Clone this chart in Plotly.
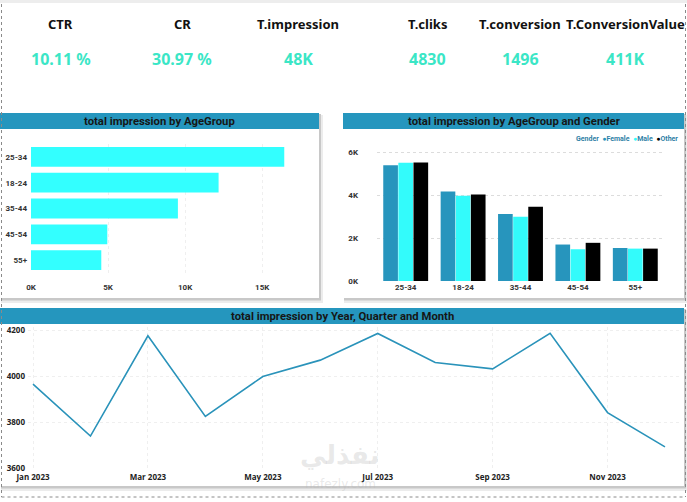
import plotly.graph_objects as go

W, H = 687, 502

# KPI cards
kpi_names = ['CTR', 'CR', 'T.impression', 'T.cliks', 'T.conversion', 'T.ConversionValue']
kpi_values = ['10.11 %', '30.97 %', '48K', '4830', '1496', '411K']

# impressions by age group
age_groups = ['25-34', '18-24', '35-44', '45-54', '55+']
age_impr = [16430, 12170, 9530, 4950, 4560]

# impressions by age group and gender
genders = ['Female', 'Male', 'Other']
gender_impr = {
    'Female': [5400, 4170, 3120, 1700, 1540],
    'Male':   [5510, 3970, 2990, 1480, 1510],
    'Other':  [5530, 4030, 3460, 1780, 1510],
}
gender_colors = {'Female': '#2795BD', 'Male': '#33FBFB', 'Other': '#000000'}

# impressions by month
months = ['Jan 2023', 'Feb 2023', 'Mar 2023', 'Apr 2023', 'May 2023', 'Jun 2023',
          'Jul 2023', 'Aug 2023', 'Sep 2023', 'Oct 2023', 'Nov 2023', 'Dec 2023']
month_impr = [3967, 3741, 4177, 3826, 4000, 4071, 4187, 4061, 4033, 4188, 3843, 3694]


def px(x):
    return x / W


def py(y):
    return 1 - y / H


BLUE = '#2596BE'
tick_font = dict(family='Roboto', size=8, color='#333333', weight='bold')

fig = go.Figure()

fig.add_trace(go.Bar(y=age_groups, x=age_impr, orientation='h',
                     marker=dict(color='#33FFFF', line_width=0),
                     xaxis='x', yaxis='y', showlegend=False))

for g in genders:
    fig.add_trace(go.Bar(x=age_groups, y=gender_impr[g], name=g,
                         marker=dict(color=gender_colors[g], line_width=0),
                         xaxis='x2', yaxis='y2', showlegend=False))

fig.add_trace(go.Scatter(x=months, y=month_impr, mode='lines',
                         line=dict(color='#2A93BA', width=1.6),
                         xaxis='x3', yaxis='y3', showlegend=False))

# panels: shadow, white card, title bar
panels = [(0, 113, 319, 298, 'total impression by AgeGroup'),
          (343, 113, 684, 298, 'total impression by AgeGroup and Gender'),
          (0, 308, 684, 486, 'total impression by Year, Quarter and Month')]
shapes = []
annotations = []
for x0, y0, x1, y1, title in panels:
    shapes.append(dict(type='rect', xref='paper', yref='paper', layer='below',
                       x0=px(x0 + 1), x1=px(x1 + 4), y0=py(y0 + 2), y1=py(y1 + 5),
                       fillcolor='#ececec', line_width=0))
    shapes.append(dict(type='rect', xref='paper', yref='paper', layer='below',
                       x0=px(x0 + 1), x1=px(x1 + 2), y0=py(y0 + 1), y1=py(y1 + 2.5),
                       fillcolor='#c8c8c8', line_width=0))
    shapes.append(dict(type='rect', xref='paper', yref='paper', layer='below',
                       x0=px(x0), x1=px(x1), y0=py(y0), y1=py(y1),
                       fillcolor='white', line_width=0))
    shapes.append(dict(type='rect', xref='paper', yref='paper', layer='below',
                       x0=px(x0), x1=px(x1), y0=py(y0), y1=py(y0 + 16),
                       fillcolor=BLUE, line_width=0))
    annotations.append(dict(xref='paper', yref='paper', x=px((x0 + x1) / 2), y=py(y0 + 8),
                            text=title, showarrow=False, xanchor='center', yanchor='middle',
                            font=dict(family='Roboto', size=11.3, color='#161616', weight='bold')))

# canvas border
dot = dict(color='#8a8a8a', width=1, dash='dot')
shapes += [
    dict(type='line', xref='paper', yref='paper', x0=px(1.5), x1=px(1.5), y0=py(4), y1=py(497), line=dot),
    dict(type='line', xref='paper', yref='paper', x0=px(685.5), x1=px(685.5), y0=py(4), y1=py(497), line=dot),
    dict(type='line', xref='paper', yref='paper', x0=px(1.5), x1=px(685.5), y0=py(497), y1=py(497), line=dot),
    dict(type='rect', xref='paper', yref='paper', layer='below', x0=0, x1=1, y0=py(3), y1=1,
         fillcolor='#ededed', line_width=0),
]

# KPI cards
kpi_x = [61, 182, 298, 427, 520, 625]
for name, val, x in zip(kpi_names, kpi_values, kpi_x):
    annotations.append(dict(xref='paper', yref='paper', x=px(x), y=py(24), text=name,
                            showarrow=False, xanchor='center', yanchor='middle',
                            font=dict(family='Noto Sans', size=13, color='#111111', weight='bold')))
    annotations.append(dict(xref='paper', yref='paper', x=px(x), y=py(59), text=val,
                            showarrow=False, xanchor='center', yanchor='middle',
                            font=dict(family='Noto Sans', size=16, color='#3BE6C6', weight='bold')))

# legend of the gender chart
legend_txt = '<b>Gender</b>  ' + '  '.join(
    f"<span style='color:{gender_colors[g]}'>●</span><b>{g}</b>" for g in genders)
annotations.append(dict(xref='paper', yref='paper', x=px(680), y=py(139), text=legend_txt,
                        showarrow=False, xanchor='right', yanchor='middle',
                        font=dict(family='Roboto', size=7, color='#2F7FA6')))

# watermark
annotations.append(dict(xref='paper', yref='paper', x=px(340), y=py(472), text='نفذلي',
                        showarrow=False, font=dict(family='DejaVu Sans', size=26,
                                                   color='rgba(180,180,180,0.3)', weight='bold')))
annotations.append(dict(xref='paper', yref='paper', x=px(340), y=py(493), text='nafezly.com',
                        showarrow=False, font=dict(family='DejaVu Sans', size=12,
                                                   color='rgba(180,180,180,0.3)')))

grid = dict(showgrid=True, gridcolor='#dcdcdc', griddash='dot', gridwidth=1, automargin=False)
faint = dict(grid, gridcolor='#efefef')

fig.update_layout(
    width=W, height=H, autosize=False,
    margin=dict(l=0, r=0, t=0, b=0, pad=0),
    paper_bgcolor='white', plot_bgcolor='rgba(0,0,0,0)',
    barmode='group', bargap=0.21, bargroupgap=0.03,
    shapes=shapes, annotations=annotations,
    xaxis=dict(domain=[px(31), px(310)], anchor='y', range=[0, 18100],
               tickvals=[0, 5000, 10000, 15000], ticktext=['0K', '5K', '10K', '15K'],
               tickfont=tick_font, zeroline=False, ticklabelstandoff=8, **faint),
    yaxis=dict(domain=[py(273), py(144)], anchor='x', type='category',
               categoryorder='array', categoryarray=age_groups, autorange='reversed',
               tickfont=tick_font, showgrid=False, ticklabelstandoff=3, automargin=False),
    xaxis2=dict(domain=[px(377), px(664)], anchor='y2', type='category',
                tickfont=tick_font, showgrid=False, automargin=False),
    yaxis2=dict(domain=[py(281), py(145)], anchor='x2', range=[0, 6340],
                tickvals=[0, 2000, 4000, 6000], ticktext=['0K', '2K', '4K', '6K'],
                tickfont=tick_font, zeroline=False, ticklabelstandoff=18, **grid),
    xaxis3=dict(domain=[px(28), px(682)], anchor='y3', type='category',
                range=[-0.087, 11.296], tickvals=months[::2], ticklabelstandoff=2,
                tickfont=dict(family='Open Sans', size=8, color='#222222', weight='bold'),
                **faint),
    yaxis3=dict(domain=[py(468.5), py(327)], anchor='x3', range=[3600, 4215],
                tickvals=[3600, 3800, 4000, 4200], zeroline=False,
                tickfont=dict(family='Open Sans', size=8, color='#222222', weight='bold'),
                ticklabelstandoff=2, **faint),
)

# drop the default page margin so the figure sits at the window's top-left corner
fig.write_html('out.html', config={'displayModeBar': False},
               post_script="document.body.style.margin='0';document.body.style.overflow='hidden';")
